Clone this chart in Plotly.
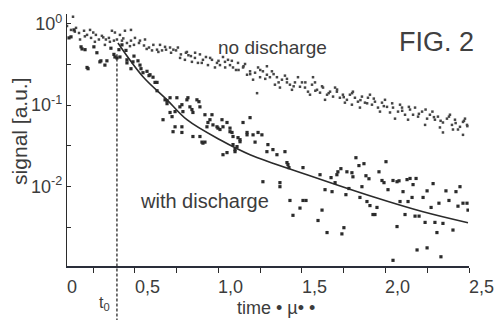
import plotly.graph_objects as go

# ---- data -------------------------------------------------------------
# signal without discharge (time in µs, signal in a.u.)
t_nodis = [0.093, 0.117, 0.147, 0.165, 0.195, 0.213, 0.237, 0.266, 0.284, 0.302,
           0.326, 0.344, 0.362, 0.374, 0.380, 0.392, 0.422, 0.452, 0.476, 0.476,
           0.494, 0.524, 0.554, 0.584, 0.602, 0.632, 0.662, 0.686, 0.716, 0.746,
           0.775, 0.805, 0.811, 0.835, 0.841, 0.859, 0.877, 0.907, 0.937, 0.961,
           0.991, 1.009, 1.027, 1.039, 1.069, 1.087, 1.117, 1.147, 1.171, 1.189,
           1.219, 1.231, 1.249, 1.266, 1.290, 1.290, 1.308, 1.338, 1.350, 1.380,
           1.410, 1.428, 1.458, 1.488, 1.500, 1.518, 1.536, 1.560, 1.566, 1.590,
           1.608, 1.626, 1.650, 1.668, 1.686, 1.709, 1.727, 1.745, 1.769, 1.787,
           1.799, 1.817, 1.835, 1.859, 1.877, 1.895, 1.919, 1.937, 1.955, 1.979,
           2.009, 2.027, 2.045, 2.075, 2.099, 2.117, 2.147, 2.165, 2.195, 2.219,
           2.249, 2.266, 2.296, 2.314, 2.344, 2.368, 2.398, 2.416, 2.446, 2.464,
           2.488, 2.344, 2.404, 2.464, 0.129, 0.440,
           0.799, 0.889, 0.925, 0.979, 1.057, 1.105, 1.159, 1.207, 1.237, 1.320,
           1.368, 1.398, 1.440, 1.476, 1.548, 1.578, 1.638, 1.698, 1.757, 1.805,
           1.847, 1.907, 1.967, 1.997, 2.057, 2.087, 2.135, 2.177, 2.237, 2.281,
           2.326, 2.386, 2.434, 2.476, 0.231, 0.320, 0.410, 0.500, 0.560, 0.650,
           0.710, 0.757, 0.171, 0.260,
           0.14, 0.20, 0.25, 0.31, 0.35, 0.43, 0.47, 0.53, 0.57, 0.61,
           0.64, 0.68, 0.73, 0.77, 0.82, 0.86, 0.90, 0.95, 1.00, 1.04,
           1.08, 1.12, 1.15, 1.19, 1.25, 1.28, 1.33, 1.36, 1.41, 1.45,
           1.52, 1.58, 1.62, 1.66, 1.71, 1.75, 1.80, 1.85, 1.89, 1.93,
           1.99, 2.04, 2.10, 2.14, 2.20, 2.24, 2.29, 2.33, 2.38, 2.42,
           2.47, 2.49]
s_nodis = [0.94, 0.84, 0.89, 0.77, 0.82, 0.73, 0.67, 0.73, 0.64, 0.71,
           0.64, 0.67, 0.82, 0.62, 0.78, 0.64, 0.62, 0.58, 0.62, 0.84,
           0.55, 0.58, 0.54, 0.51, 0.47, 0.48, 0.47, 0.48, 0.44, 0.47,
           0.42, 0.44, 0.45, 0.40, 0.34, 0.38, 0.33, 0.36, 0.31, 0.36,
           0.33, 0.31, 0.39, 0.34, 0.31, 0.29, 0.33, 0.29, 0.236, 0.26,
           0.25, 0.14, 0.22, 0.26, 0.236, 0.30, 0.22, 0.178, 0.22, 0.205,
           0.19, 0.178, 0.19, 0.168, 0.19, 0.164, 0.146, 0.178, 0.22, 0.154,
           0.142, 0.164, 0.134, 0.146, 0.127, 0.146, 0.123, 0.134, 0.116, 0.134,
           0.101, 0.123, 0.110, 0.127, 0.107, 0.123, 0.101, 0.110, 0.093, 0.107,
           0.095, 0.081, 0.093, 0.083, 0.093, 0.076, 0.088, 0.076, 0.072, 0.083,
           0.068, 0.076, 0.066, 0.072, 0.061, 0.068, 0.057, 0.066, 0.054, 0.062,
           0.057, 0.046, 0.050, 0.043, 1.22, 0.82,
           0.36, 0.42, 0.39, 0.29, 0.36, 0.27, 0.32, 0.205, 0.29, 0.26,
           0.164, 0.23, 0.154, 0.22, 0.134, 0.19, 0.116, 0.164, 0.107, 0.146,
           0.093, 0.134, 0.083, 0.116, 0.068, 0.101, 0.066, 0.093, 0.057, 0.083,
           0.053, 0.076, 0.050, 0.068, 0.84, 0.55, 0.73, 0.67, 0.64, 0.55,
           0.51, 0.51, 0.64, 0.60,
           0.80, 0.70, 0.78, 0.68, 0.60, 0.66, 0.53, 0.62, 0.49, 0.55,
           0.45, 0.52, 0.48, 0.38, 0.41, 0.44, 0.33, 0.38, 0.35, 0.29,
           0.35, 0.27, 0.30, 0.24, 0.27, 0.21, 0.24, 0.19, 0.21, 0.17,
           0.19, 0.15, 0.17, 0.14, 0.155, 0.125, 0.14, 0.115, 0.105, 0.12,
           0.097, 0.105, 0.085, 0.095, 0.078, 0.088, 0.071, 0.064, 0.072, 0.060,
           0.064, 0.055]

# signal with discharge
t_dis = [0.105, 0.117, 0.135, 0.177, 0.183, 0.201, 0.213, 0.219, 0.254, 0.272,
         0.290, 0.296, 0.320, 0.332, 0.356, 0.374, 0.380, 0.392, 0.404, 0.410,
         0.422, 0.446, 0.452, 0.452, 0.476, 0.488, 0.494, 0.518, 0.530, 0.536,
         0.548, 0.572, 0.584, 0.590, 0.608, 0.620, 0.632, 0.632, 0.668, 0.680,
         0.692, 0.692, 0.710, 0.710, 0.722, 0.728, 0.740, 0.740, 0.751, 0.769,
         0.781, 0.781, 0.781, 0.787, 0.811, 0.817, 0.829, 0.841, 0.847, 0.847,
         0.871, 0.883, 0.889, 0.889, 0.901, 0.907, 0.919, 0.919, 0.931, 0.937,
         0.949, 0.961, 0.967, 0.991, 0.997, 1.009, 1.021, 1.027, 1.027, 1.051,
         1.051, 1.069, 1.069, 1.081, 1.087, 1.087, 1.099, 1.099, 1.111, 1.117,
         1.129, 1.129, 1.147, 1.171, 1.171, 1.189, 1.207, 1.219, 1.237, 1.260,
         1.266, 1.290, 1.296, 1.326, 1.350, 1.368, 1.368, 1.398, 1.410, 1.416,
         1.422, 1.428, 1.446, 1.488, 1.506, 1.506, 1.524, 1.596, 1.608, 1.620,
         1.638, 1.650, 1.674, 1.680, 1.698, 1.709, 1.715, 1.733, 1.739, 1.751,
         1.763, 1.769, 1.781, 1.799, 1.805, 1.823, 1.841, 1.847, 1.859, 1.871,
         1.883, 1.889, 1.901, 1.907, 1.925, 1.937, 1.949, 1.961, 1.979, 1.991,
         2.003, 2.015, 2.045, 2.045, 2.069, 2.069, 2.081, 2.087, 2.105, 2.117,
         2.129, 2.135, 2.147, 2.159, 2.165, 2.177, 2.183, 2.189, 2.201, 2.225,
         2.237, 2.249, 2.249, 2.273, 2.285, 2.296, 2.308, 2.320, 2.332, 2.344,
         2.362, 2.380, 2.404, 2.422, 2.434, 2.446, 2.464, 2.488, 2.494]
s_dis = [0.67, 0.69, 0.84, 0.52, 0.49, 0.48, 0.29, 0.28, 0.52, 0.44,
         0.34, 0.35, 0.31, 0.35, 0.50, 0.42, 0.39, 0.38, 0.48, 0.39,
         0.55, 0.47, 0.36, 0.33, 0.28, 0.34, 0.40, 0.35, 0.31, 0.28,
         0.25, 0.26, 0.23, 0.236, 0.22, 0.19, 0.19, 0.15, 0.066, 0.116,
         0.113, 0.104, 0.123, 0.081, 0.072, 0.047, 0.083, 0.054, 0.123, 0.095,
         0.101, 0.054, 0.046, 0.083, 0.116, 0.123, 0.095, 0.088, 0.081, 0.041,
         0.116, 0.110, 0.095, 0.041, 0.035, 0.034, 0.076, 0.035, 0.054, 0.061,
         0.066, 0.076, 0.057, 0.054, 0.052, 0.050, 0.066, 0.054, 0.0245, 0.061,
         0.026, 0.052, 0.047, 0.046, 0.041, 0.0326, 0.0283, 0.0267, 0.0308, 0.0397,
         0.0375, 0.0354, 0.061, 0.046, 0.043, 0.070, 0.043, 0.035, 0.046, 0.043,
         0.0114, 0.0267, 0.0326, 0.0283, 0.0245, 0.0111, 0.0099, 0.0267, 0.0196, 0.0185,
         0.0170, 0.0067, 0.0044, 0.0054, 0.0170, 0.0067, 0.0067, 0.0038, 0.0139, 0.0051,
         0.0091, 0.0027, 0.0128, 0.0086, 0.0111, 0.0139, 0.0151, 0.0165, 0.0026, 0.0031,
         0.0079, 0.0151, 0.0094, 0.0147, 0.0131, 0.0225, 0.0180, 0.0073, 0.0099, 0.0190,
         0.0135, 0.0065, 0.0124, 0.0058, 0.0045, 0.0045, 0.0055, 0.0151, 0.0118, 0.0111,
         0.0201, 0.0091, 0.0118, 0.00123, 0.0114, 0.0032, 0.0117, 0.0065, 0.0086, 0.0045,
         0.0121, 0.0065, 0.0125, 0.0073, 0.0105, 0.0043, 0.0125, 0.00165, 0.0043, 0.0073,
         0.0036, 0.0088, 0.00175, 0.0055, 0.0108, 0.0036, 0.0027, 0.0062, 0.00136, 0.0035,
         0.0088, 0.0067, 0.0029, 0.0086, 0.0057, 0.0099, 0.0062, 0.0062, 0.0051]

# fitted decay after the discharge
t_fit = [0.398, 0.548, 0.692, 0.811, 1.009, 1.189, 1.530, 1.925, 2.225, 2.494]
s_fit = [0.58, 0.223, 0.116, 0.066, 0.0374, 0.0245, 0.0139, 0.00745, 0.00487, 0.00357]

T0 = 0.392                      # discharge onset
X_RANGE = [0.093, 2.5]
LOG_Y_RANGE = [-2.98, 0.12]
x_tick_vals = [0.25, 0.5, 0.75, 1.0, 1.25, 1.5, 1.75, 2.0, 2.25, 2.5]
x_label_vals = [0.093, 0.5, 1.0, 1.5, 2.0, 2.5]
x_label_text = ["0", "0,5", "1,0", "1,5", "2,0", "2,5"]
y_tick_vals = [1, 0.1, 0.01]
y_tick_text = ["10<sup>0</sup>", "10<sup>-1</sup>", "10<sup>-2</sup>"]
y_minor_vals = [0.316, 0.0316, 0.00316]

INK = "#2b2b2b"
TXT = "#3c3c3c"
FONT = "Liberation Sans, Arial, sans-serif"

fig = go.Figure()
fig.add_trace(go.Scatter(
    x=t_nodis, y=s_nodis, mode="markers",
    marker=dict(symbol="square", size=2.5, color="#333333", line=dict(width=0)),
    opacity=0.9, hoverinfo="skip"))
fig.add_trace(go.Scatter(
    x=t_dis, y=s_dis, mode="markers",
    marker=dict(symbol="square", size=3.2, color=INK, line=dict(width=0)),
    hoverinfo="skip"))
fig.add_trace(go.Scatter(
    x=t_fit, y=s_fit, mode="lines",
    line=dict(color=INK, width=1.6, shape="spline", smoothing=1.0),
    hoverinfo="skip"))

x_span = X_RANGE[1] - X_RANGE[0]
t0_paper = (T0 - X_RANGE[0]) / x_span

# dashed marker of the discharge onset, running below the axis to the t0 label
fig.add_shape(type="line", xref="paper", yref="paper",
              x0=t0_paper, x1=t0_paper, y0=-0.22, y1=0.84,
              line=dict(color=INK, width=1.3, dash="3px,2px"))

annotations = []
for v, txt in zip(x_label_vals, x_label_text):
    annotations.append(dict(x=v, y=-0.035, xref="x", yref="paper", text=txt,
                            showarrow=False, xanchor="left", yanchor="top",
                            xshift=-2, font=dict(size=18, color=TXT, family=FONT)))
annotations += [
    dict(x=t0_paper, y=-0.105, xref="paper", yref="paper", text="t<sub>0</sub>",
         showarrow=False, xanchor="right", yanchor="top", xshift=-5,
         font=dict(size=16, color=TXT, family=FONT)),
    dict(x=0.52, y=-0.168, xref="paper", yref="paper", text="time • µ• •",
         showarrow=False, xanchor="center", yanchor="middle",
         font=dict(size=18, color=TXT, family=FONT)),
    dict(x=-0.117, y=0.536, xref="paper", yref="paper", text="signal [a.u.]",
         textangle=-90, showarrow=False, xanchor="center", yanchor="middle",
         font=dict(size=21, color=TXT, family=FONT)),
    dict(x=0.918, y=0.889, xref="paper", yref="paper", text="FIG. 2",
         showarrow=False, xanchor="center", yanchor="middle",
         font=dict(size=27, color="#404040", family=FONT)),
    dict(x=0.51, y=0.869, xref="paper", yref="paper", text="no discharge",
         showarrow=False, xanchor="center", yanchor="middle",
         font=dict(size=19, color=TXT, family=FONT)),
    dict(x=0.341, y=0.258, xref="paper", yref="paper", text="with discharge",
         showarrow=False, xanchor="center", yanchor="middle",
         font=dict(size=20, color=TXT, family=FONT)),
]

fig.update_layout(
    width=496, height=320,
    margin=dict(l=67, r=27, t=14, b=54),
    paper_bgcolor="white", plot_bgcolor="white",
    showlegend=False,
    font=dict(family=FONT, color=TXT),
    annotations=annotations,
    xaxis=dict(range=X_RANGE, showgrid=False, zeroline=False,
               showline=True, linecolor="#2a2e3a", linewidth=1.6,
               ticks="outside", ticklen=5, tickwidth=1.3, tickcolor=INK,
               tickvals=x_tick_vals, showticklabels=False),
    yaxis=dict(type="log", range=LOG_Y_RANGE, showgrid=False, zeroline=False,
               showline=True, linecolor=INK, linewidth=1.4,
               ticks="inside", ticklen=4, tickwidth=1.3, tickcolor=INK,
               tickvals=y_tick_vals, ticktext=y_tick_text,
               tickfont=dict(size=18, color=TXT, family=FONT),
               minor=dict(tickmode="array", tickvals=y_minor_vals,
                          ticks="inside", ticklen=4, tickwidth=1.3,
                          tickcolor=INK, showgrid=False)),
)

fig.write_html("out.html")
